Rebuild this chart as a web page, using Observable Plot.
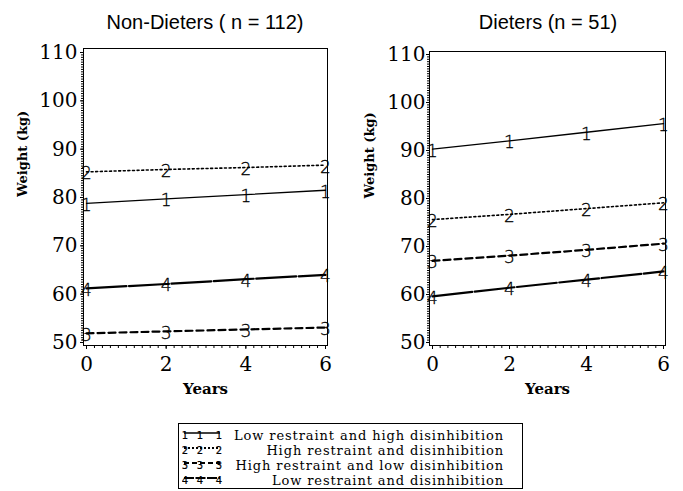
<!DOCTYPE html>
<html><head><meta charset="utf-8">
<script src="https://cdn.jsdelivr.net/npm/d3@7"></script>
<script src="https://cdn.jsdelivr.net/npm/@observablehq/plot@0.6"></script>
<style>
body{margin:0;background:#fff;}
#wrap{position:relative;width:683px;height:491px;overflow:hidden;background:#fff;font-family:"DejaVu Serif",serif;color:#000;}
.title{position:absolute;top:10px;font-family:"Liberation Sans",Arial,sans-serif;font-size:20px;line-height:24px;transform:translateX(-50%);white-space:nowrap;}
.panel{position:absolute;top:0;}
#legend{position:absolute;left:178px;top:423px;width:345px;height:66px;border:1px solid #000;box-sizing:border-box;background:#fff;}
.row{position:absolute;left:0;width:100%;height:15px;}
.row svg{position:absolute;left:3px;top:0;}
.row span{position:absolute;right:18px;top:0;font-size:13px;line-height:15px;letter-spacing:0.9px;white-space:nowrap;}
</style></head><body>
<div id="wrap"></div>
<script>
const years = [0, 2, 4, 6];
const seriesNames = [
  "Low restraint and high disinhibition",
  "High restraint and disinhibition",
  "High restraint and low disinhibition",
  "Low restraint and disinhibition"
];
const seriesSymbols = ["1", "2", "3", "4"];
const panelTitles = ["Non-Dieters ( n = 112)", "Dieters (n = 51)"];
const xTicks = [0, 2, 4, 6];
const yTicks = [50, 60, 70, 80, 90, 100, 110];
const xLabel = "Years";
const yLabel = "Weight (kg)";

// Non-Dieters
const nonDieters1 = [78.8, 79.7, 80.6, 81.5];
const nonDieters2 = [85.3, 85.8, 86.2, 86.7];
const nonDieters3 = [51.9, 52.3, 52.7, 53.1];
const nonDieters4 = [61.2, 62.1, 63.1, 64.0];
// Dieters
const dieters1 = [90.3, 92.0, 93.8, 95.6];
const dieters2 = [75.6, 76.7, 77.9, 79.1];
const dieters3 = [67.0, 68.1, 69.3, 70.6];
const dieters4 = [59.6, 61.4, 63.1, 64.8];

const dashes = [null, "2,2.6", "7,4", "40,2.5"];
const widths = [1.3, 1.6, 2.2, 2.2];

function rowsOf(vals, s) { return years.map((yr, i) => ({year: yr, weight: vals[i], s})); }

function panel(series, o) {
  const marks = [
    Plot.axisX({ticks: d3.range(0, 6.001, 0.2), tickSize: 3, tickFormat: () => "", label: null}),
    Plot.axisX({ticks: xTicks, tickSize: 4, tickPadding: 7, fontSize: 20, tickFormat: d => String(d), label: null}),
    Plot.axisY({ticks: d3.range(50, 110.001, 0.5), tickSize: 2, tickFormat: () => "", label: null}),
    Plot.axisY({ticks: yTicks, tickSize: 3, tickPadding: o.tp, fontSize: 20, tickFormat: d => String(d), label: null}),
    Plot.frame({stroke: "black", strokeWidth: 1})
  ];
  series.forEach((vals, s) => {
    const rows = rowsOf(vals, s);
    marks.push(Plot.line(rows, {x: "year", y: "weight", stroke: "black", strokeWidth: widths[s], strokeDasharray: dashes[s] || undefined}));
    marks.push(Plot.text(rows, {x: "year", y: "weight", text: d => seriesSymbols[d.s], dy: 2, fontFamily: "DejaVu Sans", fontWeight: 200, fontSize: 17, fill: "black", stroke: "black", strokeWidth: 0.3}));
  });
  marks.push(Plot.text([xLabel], {text: d => d, frameAnchor: "bottom", dy: 48, fontWeight: "bold", fontSize: 15, fill: "black"}));
  marks.push(Plot.text([yLabel], {text: d => d, frameAnchor: "left", rotate: -90, dx: o.ydx, fontWeight: "bold", fontSize: 13, fill: "black"}));
  return Plot.plot({
    width: o.width, height: 410,
    marginLeft: o.ml, marginRight: o.mr, marginTop: o.mt, marginBottom: 65,
    x: {domain: [0, 6], insetLeft: 3, insetRight: 2},
    y: {domain: [50, 110], insetTop: o.it, insetBottom: 3},
    style: {fontFamily: "DejaVu Serif", background: "white", color: "black", overflow: "visible"},
    marks
  });
}

const wrap = document.getElementById("wrap");
const p1 = panel([nonDieters1, nonDieters2, nonDieters3, nonDieters4], {width: 341, ml: 83, mr: 14, mt: 48, it: 4, tp: 3, ydx: -61});
p1.classList.add("panel"); p1.style.left = "0px";
const p2 = panel([dieters1, dieters2, dieters3, dieters4], {width: 342, ml: 88, mr: 18, mt: 51, it: 3, tp: 1, ydx: -60});
p2.classList.add("panel"); p2.style.left = "341px";
wrap.appendChild(p1); wrap.appendChild(p2);

[[panelTitles[0], 205], [panelTitles[1], 548]].forEach(([t, cx]) => {
  const d = document.createElement("div");
  d.className = "title"; d.textContent = t; d.style.left = cx + "px";
  wrap.appendChild(d);
});

// legend
const legend = document.createElement("div");
legend.id = "legend";
seriesNames.forEach((name, s) => {
  const row = document.createElement("div");
  row.className = "row"; row.style.top = (4 + s * 15) + "px";
  const ns = "http://www.w3.org/2000/svg";
  const svg = document.createElementNS(ns, "svg");
  svg.setAttribute("width", 42); svg.setAttribute("height", 15);
  const ln = document.createElementNS(ns, "line");
  ln.setAttribute("x1", 2); ln.setAttribute("x2", 38); ln.setAttribute("y1", 5); ln.setAttribute("y2", 5);
  ln.setAttribute("stroke", "black"); ln.setAttribute("stroke-width", s === 0 ? 1.3 : 2);
  if (dashes[s]) ln.setAttribute("stroke-dasharray", s === 3 ? "10,1.5" : s === 1 ? "2,2" : "5,3");
  svg.appendChild(ln);
  [3, 18, 37].forEach(x => {
    const t = document.createElementNS(ns, "text");
    t.setAttribute("x", x); t.setAttribute("y", 11);
    t.setAttribute("text-anchor", "middle");
    t.setAttribute("font-family", "DejaVu Sans"); t.setAttribute("font-size", 10);
    t.setAttribute("stroke", "black"); t.setAttribute("stroke-width", 0.2);
    t.textContent = seriesSymbols[s];
    svg.appendChild(t);
  });
  row.appendChild(svg);
  const sp = document.createElement("span");
  sp.textContent = name;
  row.appendChild(sp);
  legend.appendChild(row);
});
wrap.appendChild(legend);
</script>
</body></html>
